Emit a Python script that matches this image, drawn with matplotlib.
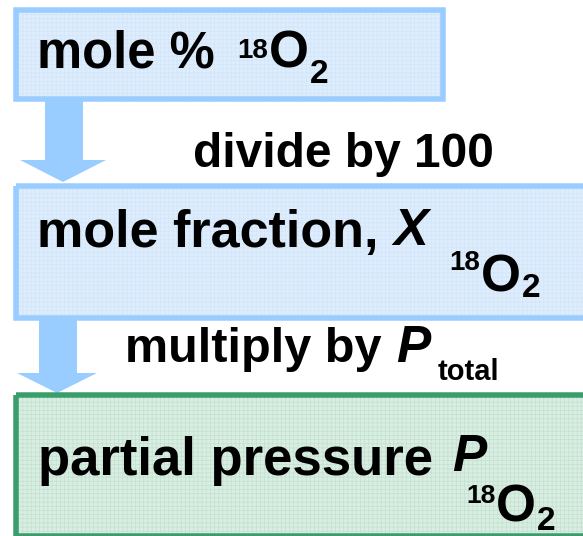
import matplotlib.pyplot as plt
from matplotlib.patches import Rectangle, Polygon

# labels of the three steps and the two operations between them
step_labels = ["mole % ", "mole fraction, ", "partial pressure "]
step_symbols = [None, "X", "P"]
isotope_mass = "18"
isotope_elem = "O"
isotope_count = "2"
op_labels = ["divide by 100", "multiply by "]
op_symbol = "P"
op_symbol_sub = "total"

W, H = 583, 536
BLUE_EDGE = "#99ccff"
BLUE_FILL = "#deedfd"
GREEN_EDGE = "#3a9e6c"
GREEN_FILL = "#d9eee2"
FONT = "Liberation Sans"

plt.rcParams["hatch.linewidth"] = 0.5

fig = plt.figure(figsize=(W / 100, H / 100), dpi=100)
ax = fig.add_axes([0, 0, 1, 1])
ax.set_xlim(0, W)
ax.set_ylim(H, 0)
ax.axis("off")
renderer = fig.canvas.get_renderer()

lw = 5.5 * 72 / 100


def box(x0, y0, x1, y1, edge, fill, grid):
    ax.add_patch(Rectangle((x0, y0), x1 - x0, y1 - y0, facecolor=fill,
                           edgecolor="none", zorder=1))
    ax.add_patch(Rectangle((x0, y0), x1 - x0, y1 - y0, fill=False,
                           edgecolor=grid, linewidth=0, hatch="++++", zorder=1.5))
    ax.add_patch(Rectangle((x0, y0), x1 - x0, y1 - y0, fill=False,
                           edgecolor=edge, linewidth=lw, zorder=2))


def arrow(xl, xr, y0, yh, hl, hr, tip):
    xc = (hl + hr) / 2
    pts = [(xl, y0), (xr, y0), (xr, yh), (hr, yh), (xc, tip), (hl, yh), (xl, yh)]
    ax.add_patch(Polygon(pts, closed=True, facecolor=BLUE_EDGE, edgecolor="none", zorder=0.5))


def txt(x, y, s, size, style="normal"):
    return ax.text(x, y, s, fontsize=size, fontfamily=FONT, fontweight="bold",
                   fontstyle=style, va="baseline", ha="left", zorder=3)


def right_edge(t):
    bb = t.get_window_extent(renderer)
    return ax.transData.inverted().transform((bb.x1, bb.y0))[0]


def isotope(x, y_sup, y_o, y_sub, sup_size=20):
    t = txt(x, y_sup, isotope_mass, sup_size)
    t = txt(right_edge(t) + 1, y_o, isotope_elem, 37)
    txt(right_edge(t) + 1, y_sub, isotope_count, 24)


# boxes
box(15.5, 9.5, 442.5, 98.5, BLUE_EDGE, BLUE_FILL, "#d2e5f8")
box(15.5, 185.5, 600, 317.5, BLUE_EDGE, BLUE_FILL, "#d2e5f8")
box(15.5, 395, 600, 536, GREEN_EDGE, GREEN_FILL, "#c4e0cf")

# arrows
arrow(45, 83, 100, 160, 20, 106, 182)
arrow(39, 77, 318, 373, 17, 97, 393)

# box 1
txt(37, 68, step_labels[0], 36.5)
isotope(237, 58, 68, 83)

# operation 1
txt(193, 167, op_labels[0], 34.5)

# box 2
txt(37, 247, step_labels[1], 37.5)
txt(393, 245, step_symbols[1], 37.5, "italic")
isotope(449, 270, 291, 297)

# operation 2
txt(125, 362, op_labels[1], 35)
txt(396, 362, op_symbol, 37, "italic")
txt(438, 380, op_symbol_sub, 21)

# box 3
txt(38, 475, step_labels[2], 38)
txt(452, 471, step_symbols[2], 37, "italic")
isotope(466, 503, 522, 530, sup_size=19)

fig.savefig("out.png", dpi=100)
